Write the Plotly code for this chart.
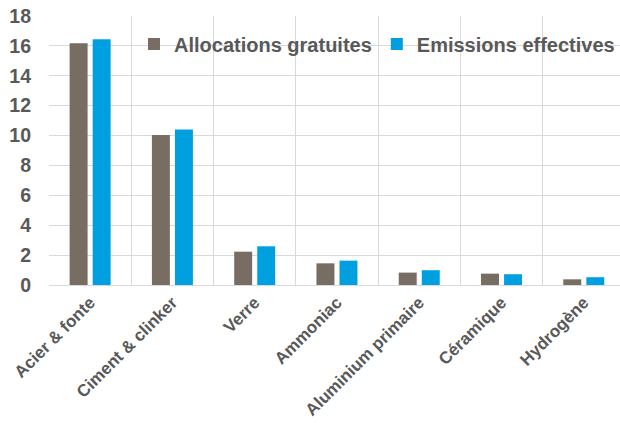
import plotly.graph_objects as go

categories = ["Acier & fonte", "Ciment & clinker", "Verre", "Ammoniac",
              "Aluminium primaire", "Céramique", "Hydrogène"]
allocations = [16.18, 10.04, 2.23, 1.45, 0.83, 0.76, 0.38]
emissions = [16.44, 10.40, 2.59, 1.63, 0.99, 0.72, 0.52]
y_ticks = [0, 2, 4, 6, 8, 10, 12, 14, 16, 18]

font_family = "Liberation Sans, Arial, sans-serif"
grey = "#595959"

fig = go.Figure()
fig.add_trace(go.Bar(x=categories, y=allocations, name="Allocations gratuites",
                     marker=dict(color="#786D62", line=dict(width=0))))
fig.add_trace(go.Bar(x=categories, y=emissions, name="Emissions effectives",
                     marker=dict(color="#00A0E0", line=dict(width=0))))

fig.update_layout(
    width=620, height=423,
    margin=dict(l=49, r=0, t=16, b=138, autoexpand=False),
    paper_bgcolor="white", plot_bgcolor="white",
    barmode="group", bargap=0.44, bargroupgap=0.22,
    font=dict(family=font_family, color=grey, weight="bold"),
    legend=dict(orientation="h", x=1.0, xanchor="right", y=0.896, yanchor="middle",
                bgcolor="rgba(0,0,0,0)",
                font=dict(size=20, color=grey, family=font_family, weight="bold"),
                itemwidth=30),
    xaxis=dict(type="category", range=[-0.5, 6.44], tickson="boundaries",
               automargin=False,
               showgrid=True, gridcolor="#d9d9d9", gridwidth=1,
               showline=True, linecolor="#d9d9d9", linewidth=1,
               ticks="", tickangle=-45,
               tickfont=dict(size=17, color=grey, family=font_family, weight="bold")),
    yaxis=dict(range=[0, 18], tickvals=y_ticks, automargin=False,
               showgrid=True, gridcolor="#d9d9d9", gridwidth=1,
               zeroline=False, showline=False, ticks="",
               ticklabelstandoff=17,
               tickfont=dict(size=19.5, color=grey, family=font_family, weight="bold")),
)

fig.write_html("out.html")
